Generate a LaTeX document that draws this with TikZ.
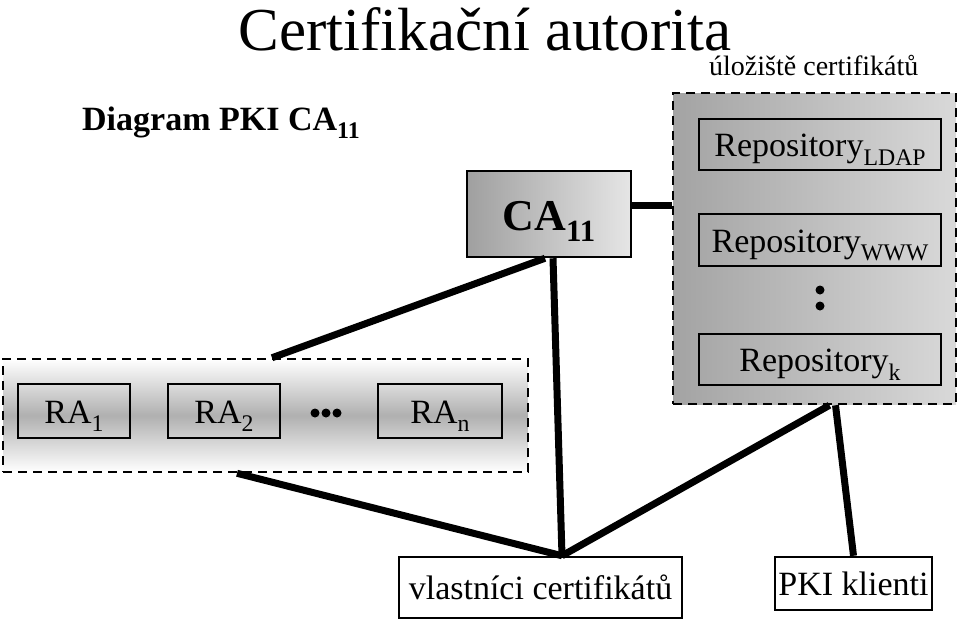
\documentclass[tikz,border=0pt]{standalone}
\usepackage{fontspec}
\setmainfont{Liberation Serif}
\usetikzlibrary{positioning}

\newcommand{\fsz}[1]{\fontsize{#1}{#1}\selectfont}
\newcommand{\subx}[1]{\raisebox{-0.25em}{\fontsize{0.7em}{0.7em}\selectfont #1}}

\begin{document}
\begin{tikzpicture}[x=1pt, y=-1pt,
  box/.style={draw, line width=2.5pt, inner sep=0pt, text height=24pt, text depth=0pt, font=\fsz{34}},
  grp/.style={draw, line width=2.5pt, dash pattern=on 9pt off 6pt, inner sep=0pt},
  link/.style={line width=7pt}]
  \useasboundingbox (0,0) rectangle (960,622);

  %----- nadpisy -----
  \node[anchor=base, inner sep=0pt] (title) at (485,50) {\fsz{61}Certifikační autorita};
  \node[anchor=base west, inner sep=0pt] (diag) at (82,130) {\fsz{34}\bfseries Diagram PKI CA\subx{11}};
  \node[anchor=base west, inner sep=0pt] (store) at (709,75) {\fsz{28}úložiště certifikátů};

  %----- úložiště (repository) -----
  \node[grp, minimum width=283, minimum height=311, left color=gray!72, right color=gray!30]
    (repo) at (814.5,248.5) {};
  \node[box, minimum width=242, minimum height=51] (ldap) at (820,144.5) {Repository\subx{LDAP}};
  \node[box, minimum width=242, minimum height=52] (www)  at (820,240)   {Repository\subx{WWW}};
  \node[box, minimum width=242, minimum height=51] (rk)   at (820,359.5) {Repository\subx{k}};
  \fill (820,290) circle (4.5) (820,306) circle (4.5);

  %----- CA -----
  \node[box, minimum width=164, minimum height=86, text height=32pt, font=\fsz{44}\bfseries,
        shading angle=60, left color=gray!75, right color=gray!20]
    (ca) at (549,214) {CA\subx{11}};

  %----- RA -----
  \node[grp, minimum width=525, minimum height=113,
        top color=white, bottom color=white, middle color=gray!62]
    (ra) at (265.5,415.5) {};
  \node[box, minimum width=112, minimum height=54] (ra1) at (74,411)  {RA\subx{1}};
  \node[box, minimum width=112, minimum height=54] (ra2) at (224,411) {RA\subx{2}};
  \node[box, minimum width=124, minimum height=54] (ran) at (440,411) {RA\subx{n}};
  \fill (315,413) circle (4.5) (326,413) circle (4.5) (337,413) circle (4.5);

  %----- koncové entity -----
  \node[box, minimum width=283, minimum height=61, fill=white] (own) at (540.5,587.5) {vlastníci certifikátů};
  \node[box, minimum width=157, minimum height=53, fill=white] (cli) at (853.5,583.5) {PKI klienti};
  \coordinate (hub) at ([xshift=21.5pt]own.north);

  %----- spojnice -----
  \draw[link] ([yshift=9pt]ca.east) -- ([yshift=9pt]ca.east -| repo.west);
  \draw[link] ([xshift=-4pt]ca.south) -- ([xshift=6.5pt]ra.north);
  \draw[link] ([xshift=4pt]ca.south) -- (hub);
  \draw[link] ([xshift=-28.5pt]ra.south) -- (hub);
  \draw[link] ([xshift=15pt]repo.south) -- (hub);
  \draw[link] ([xshift=21pt]repo.south) -- (cli.north);
\end{tikzpicture}
\end{document}
